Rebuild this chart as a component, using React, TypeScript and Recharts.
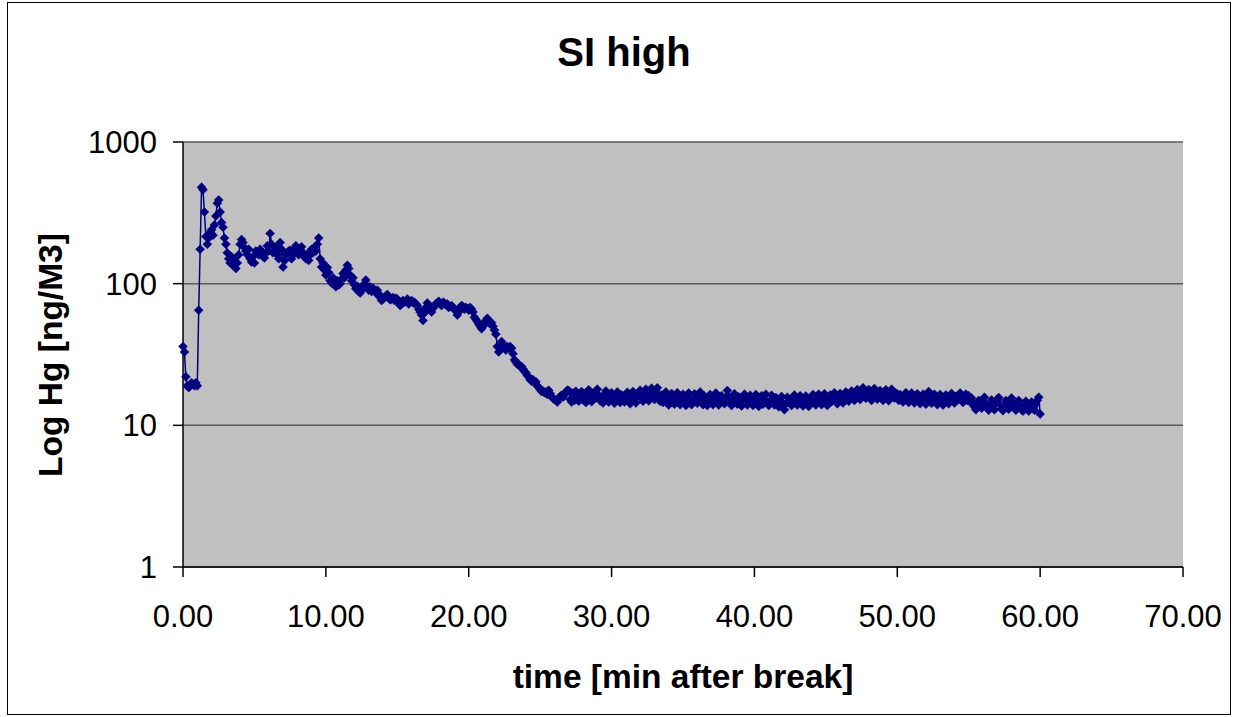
import { LineChart, Line, XAxis, YAxis, CartesianGrid, Label } from 'recharts';

// SI high – Hg concentration after break, sampled every 0.1 min
const FONT = '"Liberation Sans", Arial, sans-serif';
const SAMPLE_STEP_MIN = 0.1;

const hgValues = [
  36, 33, 22, 19, 18.5, 19, 20, 19.5, 19, 20,
  19, 65, 175, 480, 460, 320, 215, 190, 210, 230,
  240, 220, 260, 300, 370, 390, 320, 270, 250, 210,
  190, 165, 150, 140, 155, 135, 150, 128, 140, 160,
  190, 205, 195, 180, 170, 160, 175, 150, 142, 155,
  140, 170, 165, 160, 175, 165, 155, 152, 165, 185,
  170, 226, 190, 165, 170, 180, 160, 150, 195, 175,
  131, 145, 160, 165, 170, 172, 150, 160, 175, 185,
  170, 160, 175, 182, 165, 155, 150, 162, 146, 160,
  175, 165, 180, 170, 190, 210, 150, 131, 140, 125,
  115, 130, 120, 105, 101, 110, 100, 95, 105, 98,
  100, 108, 118, 110, 125, 135, 128, 115, 105, 110,
  98, 92, 96, 88, 86, 90, 95, 100, 106, 96,
  90, 95, 88, 93, 90, 86, 90, 85, 80, 76,
  78, 80, 82, 84, 80, 77, 78, 80, 76, 79,
  78, 73, 70, 72, 76, 74, 75, 78, 72, 75,
  76, 73, 74, 72, 70, 66, 63, 60, 55, 62,
  68, 73, 70, 66, 63, 67, 70, 72, 73, 75,
  72, 70, 74, 73, 71, 72, 68, 69, 70, 68,
  66, 64, 60, 63, 68, 70, 69, 66, 68, 67,
  65, 68, 66, 63, 58, 56, 54, 52, 50, 48,
  50, 53, 55, 57, 55, 52, 53, 50, 47, 44,
  36, 33, 35, 39, 37, 35, 34, 36, 35, 36,
  35, 32, 29, 28, 27, 27, 26, 26, 25, 24,
  23.5, 22.5, 22, 21, 20.5, 21, 20, 20.3, 19, 18.5,
  18, 17.3, 17.5, 17, 17.2, 16.5, 17.7, 16.8, 16, 15.5,
  15.2, 15, 14.6, 15.5, 16, 16.3, 15.8, 16.5, 17.2, 17.7,
  17.6, 15.2, 14.6, 16.9, 15.0, 17.4, 16.2, 14.8, 16.0, 17.3,
  15.1, 16.8, 14.5, 15.9, 17.8, 16.0, 14.7, 15.5, 17.2, 15.6,
  18.0, 16.3, 14.9, 15.7, 14.4, 16.6, 17.5, 15.3, 14.6, 16.2,
  17.0, 15.4, 14.3, 16.1, 17.2, 15.0, 14.5, 16.4, 15.8, 14.6,
  15.9, 17.1, 14.7, 14.2, 16.0, 17.3, 15.2, 14.4, 16.1, 16.9,
  17.7, 15.6, 14.8, 16.8, 18.0, 16.2, 14.9, 16.5, 18.3, 16.7,
  15.2, 17.5, 18.4, 16.1, 14.8, 16.4, 14.5, 15.9, 17.2, 15.0,
  13.9, 15.6, 16.8, 14.9, 14.1, 16.2, 17.0, 15.1, 14.0, 15.5,
  16.6, 14.6, 13.8, 15.9, 16.9, 14.8, 14.0, 15.3, 16.7, 15.0,
  14.3, 16.0, 17.2, 15.2, 14.0, 16.1, 14.7, 13.8, 15.6, 16.5,
  14.9, 14.0, 15.8, 16.9, 15.0, 13.9, 14.6, 16.2, 15.1, 14.2,
  15.7, 17.6, 16.0, 14.4, 13.8, 15.5, 16.7, 14.8, 14.1, 15.9,
  14.6, 13.7, 15.4, 16.6, 15.2, 13.9, 14.9, 16.3, 14.5, 13.8,
  15.5, 16.5, 14.3, 13.6, 14.8, 16.2, 14.1, 15.0, 16.6, 14.6,
  13.8, 14.9, 16.3, 15.0, 13.9, 15.7, 14.4, 13.5, 14.8, 16.0,
  14.3, 12.9, 14.2, 15.8, 14.5, 15.2, 13.8, 15.6, 16.4, 14.6,
  13.9, 15.3, 16.2, 14.5, 13.7, 14.9, 16.1, 14.7, 13.6, 14.6,
  15.8, 16.5, 14.9, 13.9, 15.2, 16.6, 15.1, 14.0, 15.7, 16.7,
  14.8, 13.8, 15.3, 16.4, 14.7, 16.1, 17.0, 15.2, 14.2, 15.8,
  16.8, 15.1, 14.4, 16.2, 17.2, 15.9, 14.8, 16.4, 17.5, 15.8,
  15.0, 16.9, 17.9, 16.0, 15.2, 17.1, 18.4, 16.6, 15.5, 16.8,
  17.9, 16.1, 15.0, 17.2, 18.2, 16.4, 15.3, 16.3, 17.6, 15.9,
  15.0, 16.7, 17.8, 15.8, 14.9, 16.4, 18.0, 16.5, 15.6, 16.9,
  16.6, 15.0, 16.5, 15.5, 14.6, 16.1, 17.0, 15.4, 14.5, 16.0,
  16.9, 15.2, 14.4, 15.9, 16.7, 15.0, 14.2, 15.8, 16.6, 15.0,
  14.1, 15.6, 17.3, 15.4, 14.3, 15.8, 16.6, 14.9, 14.0, 15.5,
  16.5, 14.8, 13.9, 15.3, 16.4, 15.6, 14.2, 15.9, 16.8, 15.1,
  14.4, 16.0, 15.0, 16.3, 16.9, 15.2, 14.5, 15.8, 16.6, 15.0,
  16.2, 14.6, 15.6, 14.2, 13.5, 12.9, 13.8, 15.0, 14.1, 13.2,
  14.6, 15.8, 14.2, 13.3, 12.8, 13.9, 15.1, 13.9, 12.9, 14.3,
  15.3, 15.7, 14.0, 13.1, 12.7, 13.8, 15.0, 13.8, 13.0, 14.6,
  15.6, 14.3, 13.3, 12.8, 13.9, 15.0, 13.8, 12.9, 12.6, 13.8,
  14.8, 13.4, 12.6, 13.5, 14.6, 13.4, 12.8, 14.1, 15.0, 15.8,
  12.0,
];

const xTicks = [0, 10, 20, 30, 40, 50, 60, 70];
const yTicks = [1, 10, 100, 1000];

const data = hgValues.map((v, i) => ({ t: Math.round(i * SAMPLE_STEP_MIN * 10) / 10, v }));

const Diamond = (props: any) => {
  const { cx, cy, index } = props;
  if (cx == null || cy == null) return null;
  const r = 4.5;
  return (
    <polygon
      key={index}
      points={`${cx},${cy - r} ${cx + r},${cy} ${cx},${cy + r} ${cx - r},${cy}`}
      fill="#000080"
      stroke="#000080"
      strokeWidth={0.5}
    />
  );
};

const tickStyle = { fontSize: 31, fill: '#000', fontFamily: FONT };

export default function App() {
  return (
    <div style={{ position: 'absolute', left: 0, top: 0, width: 1238, height: 717, background: '#fff', fontFamily: FONT }}>
      <div style={{ position: 'absolute', left: 7, top: 2, width: 1222, height: 711, border: '1px solid #000' }} />
      <div
        style={{
          position: 'absolute', left: 0, width: 1248, top: 32, lineHeight: '40px',
          textAlign: 'center', fontSize: 40, fontWeight: 'bold', color: '#000',
        }}
      >
        SI high
      </div>
      <div style={{ position: 'absolute', left: 0, top: 0 }}>
        <LineChart width={1238} height={717} data={data} margin={{ top: 142, right: 55, bottom: 0, left: 0 }}>
          <CartesianGrid vertical={false} fill="#C0C0C0" fillOpacity={1} stroke="#5a5a5a" strokeWidth={1.5} />
          <XAxis
            dataKey="t"
            type="number"
            domain={[0, 70]}
            ticks={xTicks}
            tickFormatter={(v: number) => v.toFixed(2)}
            height={150}
            tick={tickStyle}
            tickSize={10}
            tickMargin={28}
            stroke="#000"
            axisLine={{ stroke: '#000', strokeWidth: 1.5 }}
            tickLine={{ stroke: '#000', strokeWidth: 1.5 }}
          >
            <Label
              content={() => (
                <text x={683} y={688} textAnchor="middle" fontSize={33.5} fontWeight="bold" fontFamily={FONT} fill="#000">
                  time [min after break]
                </text>
              )}
            />
          </XAxis>
          <YAxis
            type="number"
            scale="log"
            domain={[1, 1000]}
            ticks={yTicks}
            allowDataOverflow
            width={183}
            tick={tickStyle}
            tickSize={10}
            tickMargin={16}
            stroke="#000"
            axisLine={{ stroke: '#000', strokeWidth: 1.5 }}
            tickLine={{ stroke: '#000', strokeWidth: 1.5 }}
          >
            <Label
              content={() => (
                <text
                  transform="translate(62,355) rotate(-90)"
                  textAnchor="middle"
                  fontSize={33.5}
                  fontWeight="bold"
                  fontFamily={FONT}
                  fill="#000"
                >
                  Log Hg [ng/M3]
                </text>
              )}
            />
          </YAxis>
          <Line
            type="linear"
            dataKey="v"
            stroke="#000080"
            strokeWidth={1.5}
            dot={Diamond}
            activeDot={false}
            isAnimationActive={false}
          />
        </LineChart>
      </div>
    </div>
  );
}
